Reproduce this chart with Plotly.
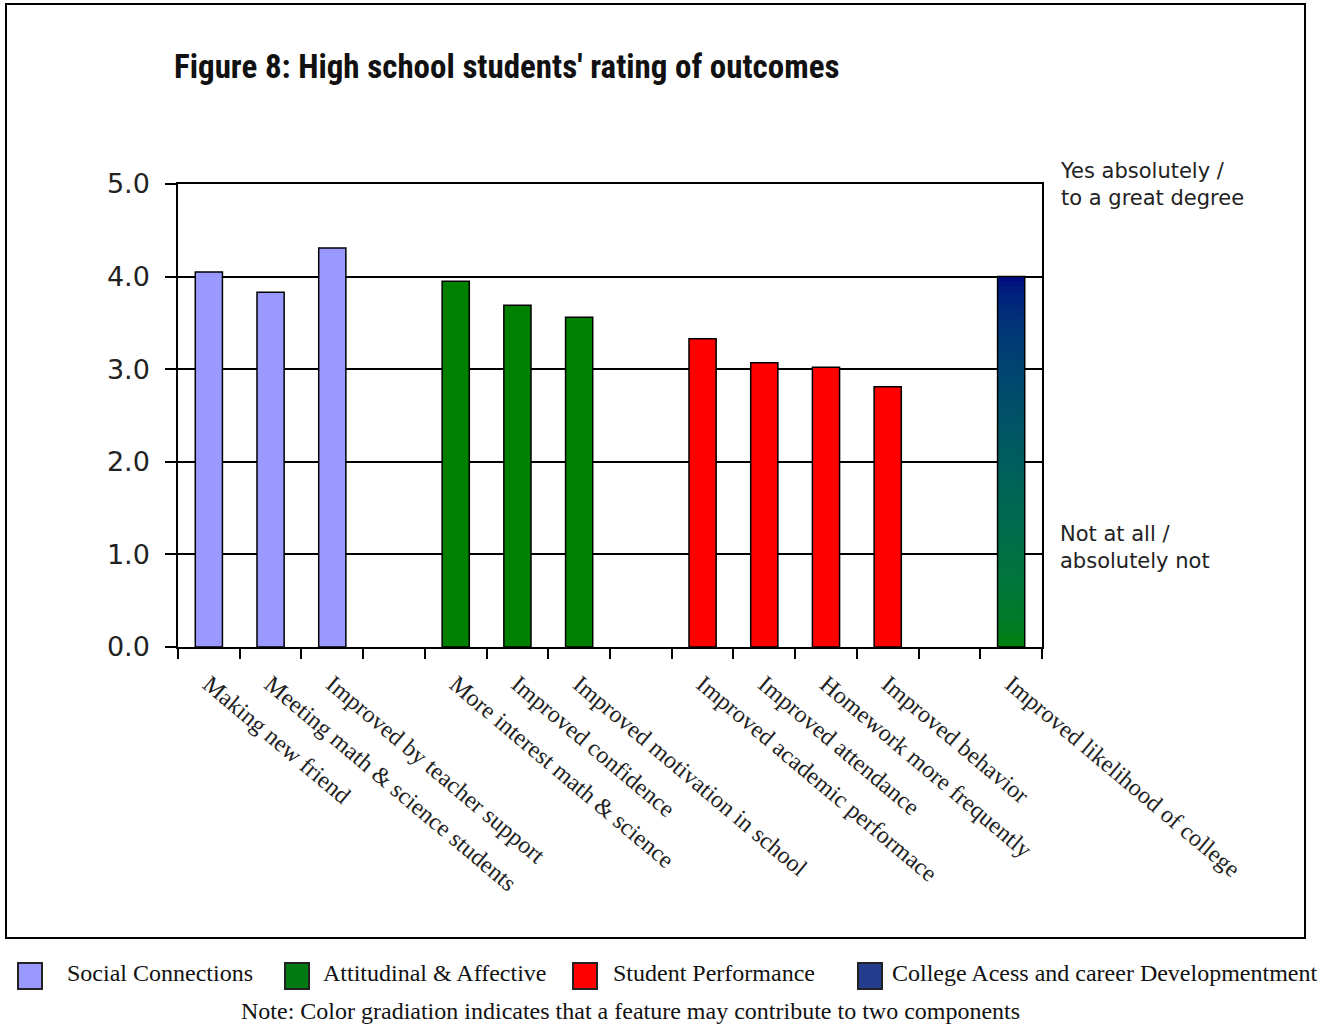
import plotly.graph_objects as go

# ---------------- data ----------------
categories = [
    "Making new friend",
    "Meeting math & science students",
    "Improved by teacher support",
    "",
    "More interest math & science",
    "Improved confidence",
    "Improved motivation in school",
    "",
    "Improved academic performace",
    "Improved attendance",
    "Homework more frequently",
    "Improved behavior",
    "",
    "Improved likelihood of college",
]
values = [4.05, 3.83, 4.31, None, 3.95, 3.69, 3.56, None,
          3.33, 3.07, 3.02, 2.81, None, 4.00]
groups = ["social", "social", "social", None,
          "attitude", "attitude", "attitude", None,
          "perf", "perf", "perf", "perf", None,
          "gradient"]
ytick_vals = [0, 1, 2, 3, 4, 5]
ytick_text = ["0.0", "1.0", "2.0", "3.0", "4.0", "5.0"]

group_colors = {"social": "#9999FF", "attitude": "#008000", "perf": "#FF0000"}
grad_top = (0, 0, 128)
grad_bottom = (0, 128, 0)

legend_items = [
    ("Social Connections", "#9999FF"),
    ("Attitudinal & Affective", "#007A12"),
    ("Student Performance", "#FF0000"),
    ("College Acess and career Developmentment", "#233C8E"),
]
title_text = "Figure 8: High school students' rating of outcomes"
note_text = "Note: Color gradiation indicates that a feature may contribute to two components"

# ---------------- geometry ----------------
W, H = 1334, 1026
L, R, T, B = 178, 292, 184, 379
PW, PH = W - L - R, H - T - B
def px(x):
    return (x - L) / PW
def py(y):
    return (H - B - y) / PH

BAR_W = 0.44
centers = [i + 0.5 for i in range(len(categories))]

fig = go.Figure()

for g, col in group_colors.items():
    xs = [centers[i] for i in range(len(values)) if groups[i] == g]
    ys = [values[i] for i in range(len(values)) if groups[i] == g]
    fig.add_trace(go.Bar(x=xs, y=ys, width=BAR_W, marker=dict(color=col, line=dict(color="black", width=1.5)),
                         showlegend=False, hoverinfo="skip"))

def mix(a, b, t, gamma=2.2):
    la, lb = (a / 255) ** gamma, (b / 255) ** gamma
    return int(round(255 * (la + (lb - la) * t) ** (1 / gamma)))

# gradient bar(s): stacked thin segments
N = 80
for i in range(len(values)):
    if groups[i] != "gradient":
        continue
    v = values[i]
    step = v / N
    bases, hs, cols = [], [], []
    for k in range(N):
        t = (k + 0.5) / N  # 0 bottom -> 1 top
        c = tuple(mix(grad_bottom[j], grad_top[j], t) for j in range(3))
        bases.append(k * step)
        hs.append(step * (1.6 if k < N - 1 else 1.0))
        cols.append("rgb(%d,%d,%d)" % c)
    fig.add_trace(go.Bar(x=[centers[i]] * N, y=hs, base=bases, width=BAR_W,
                         marker=dict(color=cols, line=dict(width=0)),
                         showlegend=False, hoverinfo="skip"))
    fig.add_trace(go.Bar(x=[centers[i]], y=[v], width=BAR_W,
                         marker=dict(color="rgba(0,0,0,0)", line=dict(color="black", width=1.5)),
                         showlegend=False, hoverinfo="skip"))

fig.update_layout(
    width=W, height=H,
    margin=dict(l=L, r=R, t=T, b=B, pad=0),
    paper_bgcolor="white", plot_bgcolor="white",
    barmode="overlay",
    showlegend=False,
    xaxis=dict(
        range=[0, len(categories)],
        tickmode="array", tickvals=centers, ticktext=categories,
        tickangle=40, ticks="", ticklen=0,
        tickfont=dict(family="Liberation Serif, Times New Roman, serif", size=24, color="#222"),
        ticklabelstandoff=12,
        showline=True, linecolor="black", linewidth=1.5, mirror=True,
        showgrid=False, zeroline=False,
        minor=dict(tickmode="array", tickvals=list(range(len(categories) + 1)),
                   ticks="outside", ticklen=10, tickcolor="black", tickwidth=1.5, showgrid=False),
    ),
    yaxis=dict(
        range=[0, 5],
        tickmode="array", tickvals=ytick_vals, ticktext=ytick_text,
        ticks="outside", ticklen=11, tickcolor="black", tickwidth=1.5,
        tickfont=dict(family="DejaVu Sans, sans-serif", size=27, color="#222"),
        ticklabelstandoff=10,
        showline=True, linecolor="black", linewidth=1.5, mirror=True,
        showgrid=True, gridcolor="black", gridwidth=1.5, zeroline=False,
    ),
)

shapes = [dict(type="rect", xref="paper", yref="paper",
               x0=px(6), x1=px(1305), y0=py(938), y1=py(4),
               line=dict(color="black", width=2), fillcolor="rgba(0,0,0,0)", layer="below")]
annotations = [
    dict(text="<b>" + title_text + "</b>", xref="paper", yref="paper", x=px(172), y=py(66),
         xanchor="left", yanchor="middle", showarrow=False,
         font=dict(family="Liberation Sans Narrow, Arial Narrow, Roboto Condensed, sans-serif", size=33, color="#111")),
    dict(text="Yes absolutely /<br>to a great degree", xref="paper", yref="paper", x=px(1058), y=py(184),
         xanchor="left", yanchor="middle", align="left", showarrow=False,
         font=dict(family="DejaVu Sans, sans-serif", size=21, color="#222")),
    dict(text="Not at all /<br>absolutely not", xref="paper", yref="paper", x=px(1058), y=py(547),
         xanchor="left", yanchor="middle", align="left", showarrow=False,
         font=dict(family="DejaVu Sans, sans-serif", size=21, color="#222")),
    dict(text=note_text, xref="paper", yref="paper", x=px(630), y=py(1011),
         xanchor="center", yanchor="middle", showarrow=False,
         font=dict(family="Liberation Serif, Times New Roman, serif", size=24, color="#111")),
]
leg_sq_x = [18, 285, 573, 858]
leg_tx_x = [65, 321, 611, 890]
for (lab, col), sx, tx in zip(legend_items, leg_sq_x, leg_tx_x):
    shapes.append(dict(type="rect", xref="paper", yref="paper",
                       x0=px(sx), x1=px(sx + 24), y0=py(989), y1=py(963),
                       line=dict(color="#222", width=2), fillcolor=col))
    annotations.append(dict(text=lab, xref="paper", yref="paper", x=px(tx), y=py(973),
                            xanchor="left", yanchor="middle", showarrow=False,
                            font=dict(family="Liberation Serif, Times New Roman, serif", size=24, color="#111")))
fig.update_layout(shapes=shapes, annotations=annotations)

fig.write_html("out.html")
